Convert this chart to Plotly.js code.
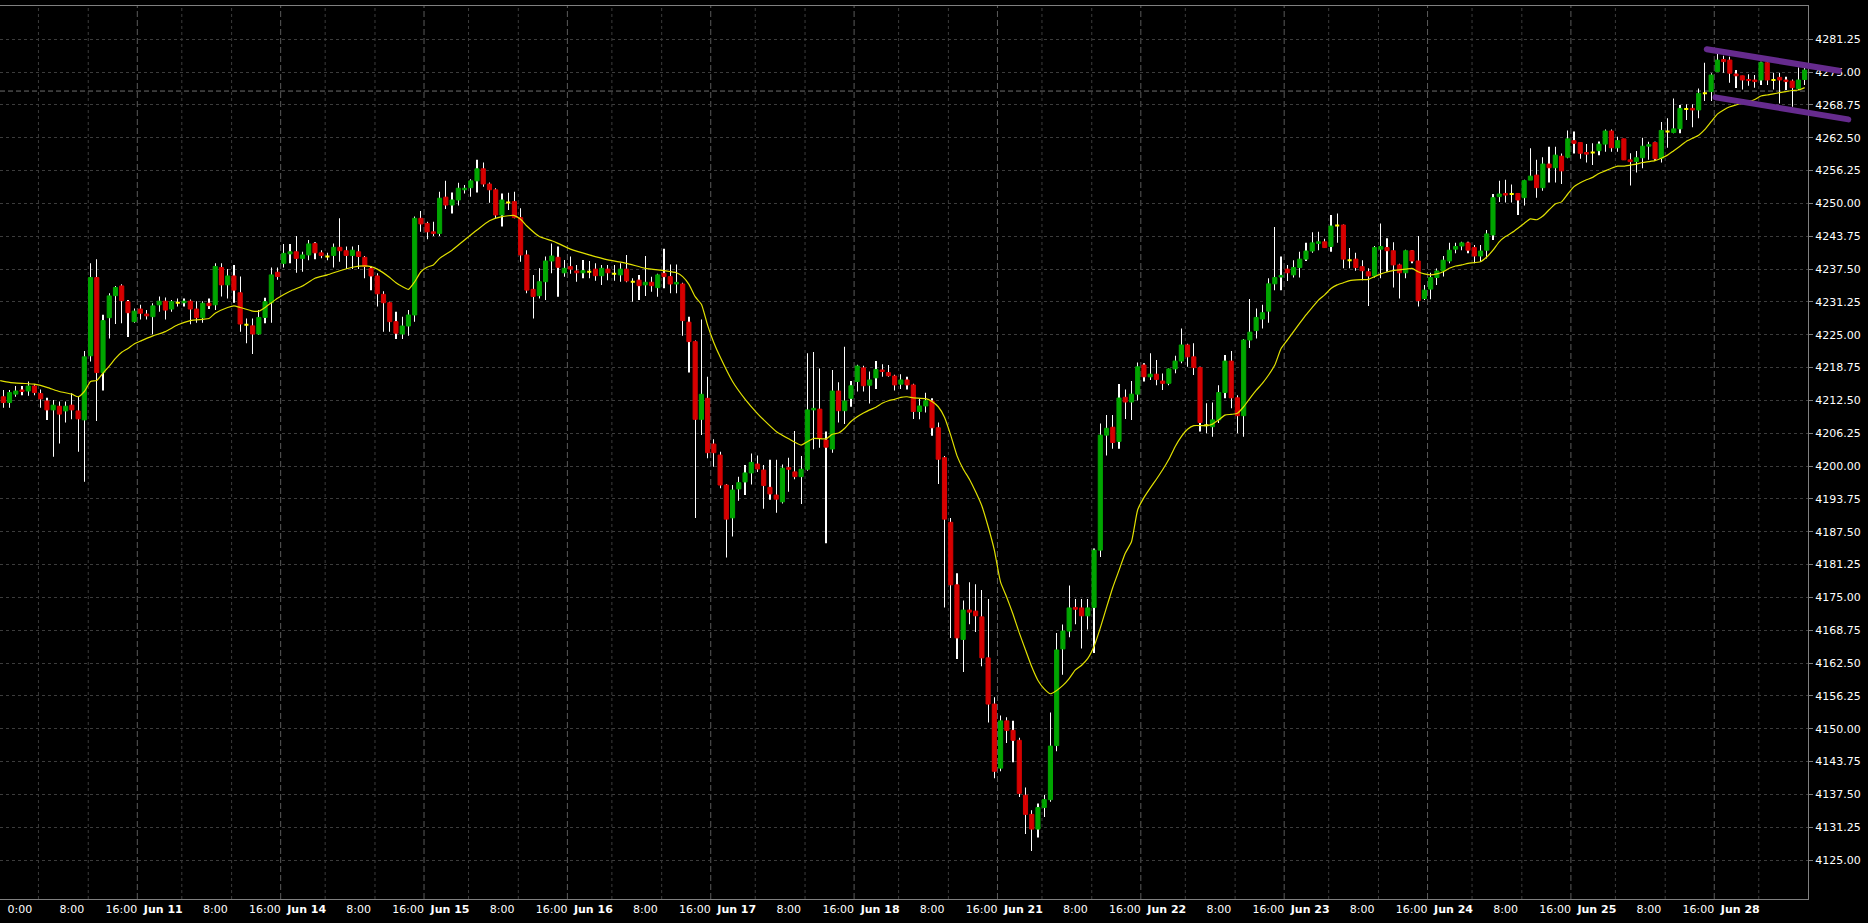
<!DOCTYPE html>
<html><head><meta charset="utf-8">
<script src="https://cdn.plot.ly/plotly-3.0.1.min.js"></script>
<style>html,body{margin:0;padding:0;background:#000;overflow:hidden}#chart{width:1868px;height:923px}</style>
</head><body><div id="chart"></div>
<script>
// ---- hourly OHLC (bar index 0..289) ----
const openP = [
4213.2,4212.1,4213.7,4214.5,4214.3,4215.25,4213.8,4212.4,4210.7,4211.4,
4210.5,4211.6,4210.5,4208.8,4221.0,4235.9,4217.8,4228.25,4232.45,4234.3,
4231.3,4227.5,4229.9,4228.95,4228.45,4230.7,4231.4,4229.9,4231.1,4231.1,
4231.4,4229.9,4228.25,4231.0,4230.7,4237.8,4234.5,4236.2,4233.0,4226.9,
4226.7,4225.15,4228.3,4231.1,4236.9,4238.6,4240.4,4240.8,4239.55,4240.2,
4242.4,4240.6,4239.9,4240.1,4241.65,4241.0,4240.1,4240.8,4239.75,4237.65,
4236.2,4232.7,4231.1,4227.5,4225.15,4226.67,4228.77,4247.17,4246.2,4244.6,
4244.3,4251.2,4249.7,4250.66,4252.6,4253.0,4254.3,4256.6,4253.7,4252.6,
4247.8,4250.2,4250.35,4247.3,4240.2,4233.65,4232.45,4235.1,4239.05,4239.75,
4236.8,4237.97,4237.15,4236.8,4237.0,4237.5,4236.25,4237.5,4236.6,4236.4,
4237.5,4235.1,4235.4,4234.5,4235.0,4233.97,4236.7,4236.07,4234.67,4234.67,
4227.4,4223.7,4208.9,4212.9,4204.2,4202.1,4196.4,4190.15,4195.65,4196.99,
4198.7,4200.4,4199.25,4195.96,4194.5,4193.2,4199.7,4198.9,4198.0,4199.4,
4210.7,4210.85,4204.97,4203.25,4214.3,4210.55,4212.9,4216.1,4218.7,4215.4,
4216.8,4218.3,4217.8,4217.15,4215.6,4216.4,4215.45,4210.4,4211.45,4212.4,
4207.3,4201.6,4189.3,4177.4,4167.0,4172.6,4172.4,4171.3,4163.5,4154.7,
4142.5,4151.5,4149.7,4147.8,4137.35,4133.7,4130.9,4135.0,4136.5,4146.8,
4165.2,4168.6,4173.1,4173.0,4171.5,4173.1,4184.0,4205.9,4207.4,4204.7,
4213.1,4212.2,4213.7,4219.25,4217.0,4217.5,4216.2,4215.76,4218.5,4220.0,
4223.06,4220.8,4218.75,4207.8,4207.5,4208.8,4214.0,4220.0,4213.0,4209.6,
4224.0,4225.8,4228.0,4229.5,4234.7,4236.0,4237.5,4236.4,4237.8,4239.4,
4240.95,4242.4,4242.7,4241.8,4245.8,4245.9,4239.2,4239.4,4237.97,4237.0,
4236.2,4241.3,4241.6,4241.0,4238.3,4236.8,4241.0,4239.05,4231.9,4233.7,
4235.9,4237.15,4239.05,4241.3,4241.9,4242.5,4241.6,4240.0,4241.1,4244.0,
4251.3,4251.9,4251.8,4251.9,4251.1,4254.45,4255.4,4253.0,4257.5,4256.8,
4259.0,4258.8,4261.95,4261.6,4259.7,4259.7,4260.05,4261.3,4263.8,4260.6,
4262.3,4258.3,4257.96,4258.7,4260.9,4261.6,4258.6,4263.7,4263.5,4264.2,
4268.0,4268.1,4267.8,4270.97,4271.3,4275.1,4277.4,4277.3,4274.65,4274.3,
4273.6,4273.5,4273.5,4276.8,4273.5,4274.0,4273.5,4273.3,4271.9,4273.6];
const highP = [
4214.5,4214.5,4215.25,4215.25,4216.1,4215.6,4214.6,4213.0,4212.6,4212.3,
4212.3,4213.85,4213.2,4221.9,4238.6,4239.4,4228.8,4232.9,4234.3,4234.6,
4231.6,4230.0,4230.7,4229.7,4231.0,4232.3,4232.1,4231.6,4231.9,4231.9,
4231.7,4231.4,4231.4,4231.9,4238.6,4238.6,4237.5,4238.3,4236.1,4228.1,
4228.1,4229.7,4232.05,4237.8,4237.8,4242.3,4242.3,4243.8,4240.8,4243.05,
4242.6,4241.1,4240.6,4242.4,4247.2,4241.8,4241.8,4242.1,4240.0,4238.0,
4236.7,4233.3,4231.3,4229.4,4228.45,4229.7,4247.5,4248.57,4246.5,4246.5,
4252.25,4254.3,4252.1,4253.96,4253.5,4254.6,4258.3,4257.8,4254.0,4252.9,
4251.9,4252.06,4252.25,4249.1,4241.1,4236.4,4237.65,4239.9,4242.4,4241.8,
4239.25,4239.9,4238.3,4239.25,4239.05,4238.6,4238.3,4238.3,4238.3,4238.6,
4240.2,4235.75,4236.4,4240.0,4236.07,4236.6,4241.4,4238.4,4238.4,4234.9,
4228.45,4223.9,4227.9,4217.0,4205.1,4202.75,4196.6,4196.4,4197.99,4200.2,
4202.4,4202.0,4200.2,4201.2,4201.2,4200.3,4201.6,4206.7,4201.9,4221.5,
4221.7,4218.6,4206.6,4218.3,4215.95,4222.7,4216.2,4219.3,4219.1,4218.0,
4220.0,4219.4,4219.25,4217.4,4217.5,4217.0,4215.7,4212.8,4213.97,4212.9,
4208.3,4201.9,4190.1,4179.6,4174.4,4177.9,4177.5,4176.4,4174.7,4156.0,
4152.5,4152.2,4151.5,4148.3,4138.8,4134.5,4135.75,4137.4,4153.1,4168.25,
4169.85,4177.25,4174.7,4174.7,4174.7,4184.3,4208.1,4209.75,4209.75,4215.65,
4214.6,4216.2,4219.7,4219.6,4221.5,4220.2,4217.65,4218.6,4221.0,4226.2,
4223.3,4223.4,4218.9,4211.95,4212.1,4215.4,4221.15,4221.9,4213.5,4224.2,
4231.8,4230.0,4230.7,4235.75,4245.5,4239.9,4238.3,4239.2,4240.8,4242.5,
4244.5,4244.6,4243.3,4247.8,4248.1,4246.0,4241.5,4240.6,4239.2,4237.65,
4241.9,4246.2,4243.4,4242.6,4238.5,4241.2,4241.1,4243.8,4234.5,4236.8,
4237.6,4240.0,4242.5,4242.5,4242.7,4242.7,4242.1,4242.1,4244.95,4251.8,
4254.3,4254.5,4253.6,4251.9,4254.5,4260.5,4258.3,4258.8,4260.8,4260.8,
4259.5,4263.9,4263.7,4261.6,4261.3,4261.45,4261.8,4264.1,4264.1,4262.7,
4262.3,4259.55,4260.0,4262.5,4261.75,4261.75,4265.5,4266.2,4270.0,4268.75,
4268.9,4268.9,4271.9,4276.8,4274.8,4278.45,4278.1,4277.95,4275.4,4274.3,
4274.6,4274.45,4277.0,4277.0,4274.9,4274.9,4274.1,4273.6,4275.9,4276.35];
const lowP = [
4211.1,4211.1,4213.2,4213.5,4213.4,4213.5,4211.1,4208.8,4201.8,4204.3,
4208.3,4208.9,4202.75,4197.0,4219.9,4208.6,4214.4,4224.3,4227.05,4227.2,
4224.6,4227.3,4227.9,4227.9,4225.1,4229.4,4227.9,4229.4,4230.4,4230.4,
4227.0,4227.3,4227.3,4229.9,4229.7,4232.3,4231.9,4231.1,4225.6,4223.4,
4221.35,4225.0,4227.2,4227.3,4235.5,4237.8,4238.6,4236.8,4237.0,4239.2,
4239.4,4239.55,4239.2,4237.8,4238.9,4237.5,4237.5,4237.5,4235.75,4233.5,
4230.4,4225.6,4225.6,4224.2,4224.2,4224.8,4227.5,4244.6,4243.2,4243.8,
4243.8,4248.95,4248.1,4249.6,4251.9,4251.3,4252.1,4253.2,4250.15,4247.2,
4245.6,4248.76,4247.17,4238.9,4232.9,4228.1,4231.9,4231.6,4236.7,4232.25,
4236.07,4236.6,4235.1,4235.75,4235.75,4235.3,4234.5,4235.4,4235.3,4235.1,
4235.0,4231.3,4231.6,4232.4,4233.2,4232.25,4233.85,4232.9,4232.9,4224.8,
4217.8,4190.1,4205.9,4201.5,4199.9,4195.8,4182.6,4186.6,4193.4,4194.5,
4196.5,4198.9,4191.9,4193.6,4191.1,4192.9,4195.1,4197.5,4192.8,4199.1,
4203.2,4203.5,4185.3,4202.56,4208.3,4208.0,4211.3,4214.2,4214.2,4211.9,
4214.7,4217.0,4217.0,4214.4,4214.7,4214.6,4208.96,4208.9,4210.2,4205.8,
4196.6,4173.1,4167.3,4163.3,4160.8,4169.9,4168.4,4161.9,4151.2,4140.6,
4141.9,4147.3,4143.6,4137.0,4129.96,4126.75,4129.3,4133.2,4136.1,4145.7,
4160.3,4167.4,4169.9,4165.3,4168.9,4164.4,4182.7,4202.0,4203.3,4203.3,
4208.97,4208.8,4212.5,4216.1,4216.4,4215.4,4214.5,4215.4,4217.7,4219.6,
4218.9,4217.35,4206.6,4206.24,4205.6,4208.2,4212.9,4211.0,4206.24,4205.6,
4222.5,4224.3,4226.2,4227.3,4233.5,4233.5,4235.25,4235.9,4235.9,4239.05,
4240.6,4241.1,4241.5,4240.8,4242.5,4237.65,4237.65,4237.2,4235.4,4230.5,
4235.9,4235.75,4237.0,4234.0,4231.9,4235.75,4238.6,4230.4,4231.6,4231.75,
4234.5,4236.1,4238.6,4240.5,4241.1,4240.5,4238.6,4238.9,4239.5,4243.05,
4250.3,4250.2,4250.2,4247.8,4249.6,4254.45,4251.1,4252.4,4254.0,4254.0,
4253.7,4258.6,4259.5,4258.5,4257.8,4257.3,4259.2,4259.85,4259.85,4259.85,
4258.3,4253.4,4255.9,4256.7,4258.3,4258.15,4257.8,4260.6,4263.35,4263.35,
4265.9,4264.5,4266.2,4269.5,4269.5,4275.1,4274.9,4273.0,4272.0,4271.7,
4272.4,4272.05,4272.55,4272.55,4271.7,4269.05,4271.6,4268.4,4271.6,4272.55];
const closeP = [
4212.1,4214.0,4214.3,4214.2,4215.25,4214.0,4212.8,4210.7,4211.6,4209.9,
4211.4,4210.7,4209.0,4220.8,4235.9,4217.8,4227.7,4232.4,4234.0,4231.5,
4229.2,4229.5,4229.1,4228.6,4230.5,4231.4,4229.7,4231.3,4231.1,4231.4,
4229.9,4228.25,4231.0,4230.55,4238.0,4234.5,4236.2,4233.5,4227.05,4226.9,
4225.15,4228.3,4231.3,4236.4,4236.1,4240.5,4240.8,4239.55,4240.2,4242.3,
4240.6,4240.1,4239.9,4241.65,4241.0,4240.1,4241.1,4239.9,4238.0,4236.2,
4232.8,4231.1,4227.5,4225.3,4226.67,4228.77,4247.17,4246.1,4244.6,4244.3,
4251.0,4249.7,4250.66,4252.9,4252.9,4254.3,4256.6,4253.7,4252.6,4247.8,
4250.66,4250.2,4247.3,4240.2,4233.5,4232.3,4235.1,4239.05,4240.0,4237.85,
4237.65,4237.5,4236.8,4237.2,4237.0,4236.25,4237.65,4236.8,4236.6,4237.5,
4235.25,4235.1,4234.35,4235.0,4234.35,4236.4,4236.07,4234.67,4234.98,4227.7,
4223.7,4208.9,4213.67,4202.55,4202.55,4196.4,4189.9,4195.45,4196.85,4198.7,
4200.7,4199.45,4196.3,4194.7,4193.7,4199.6,4199.4,4198.0,4199.4,4210.7,
4211.0,4205.3,4203.6,4214.3,4210.55,4212.4,4215.3,4219.05,4215.3,4216.4,
4218.4,4218.0,4217.2,4215.45,4216.4,4215.45,4210.4,4211.45,4212.45,4207.3,
4201.3,4189.9,4177.4,4167.3,4172.6,4172.2,4171.5,4163.5,4154.7,4141.9,
4151.5,4149.7,4147.8,4137.7,4133.7,4130.9,4135.0,4136.5,4146.7,4165.0,
4168.6,4173.0,4172.75,4171.5,4173.0,4184.0,4205.9,4207.2,4204.5,4212.96,
4212.2,4213.7,4218.9,4217.0,4217.5,4216.5,4215.76,4218.5,4220.0,4223.06,
4220.8,4218.75,4208.3,4207.8,4208.8,4214.0,4220.0,4213.0,4209.6,4224.0,
4225.5,4228.3,4229.2,4234.7,4235.9,4236.3,4236.8,4237.8,4239.4,4240.95,
4242.5,4242.7,4241.6,4245.7,4245.8,4239.4,4239.2,4237.8,4237.2,4236.2,
4241.6,4241.8,4241.0,4238.3,4236.8,4241.0,4239.05,4231.5,4233.5,4235.9,
4237.15,4239.2,4241.1,4241.8,4242.5,4241.1,4240.0,4240.95,4244.2,4251.1,
4251.8,4251.6,4251.8,4250.66,4254.35,4255.2,4253.0,4257.5,4256.8,4259.2,
4256.2,4262.3,4261.45,4259.55,4259.4,4259.7,4261.3,4263.8,4260.6,4261.95,
4258.3,4257.96,4258.7,4260.9,4261.2,4258.5,4263.9,4263.7,4264.2,4268.1,
4268.0,4267.8,4270.97,4270.97,4274.45,4277.3,4277.0,4274.8,4274.3,4273.5,
4273.4,4273.2,4276.8,4273.5,4273.5,4273.5,4273.2,4272.05,4273.5,4275.4];

// ---- moving average at these bar indices ----
const maBar = [-0.5,1,3,5,7,9,11,12,13,14,15,16,17,18,19,20,21,22,24,26,28,30,32,33,34,36,37,38,40,41,42,44,46,48,50,52,54,56,58,59,60,62,63,64,65,66,67,68,69,70,72,74,76,78,80,82,83,84,86,88,89,91,94,97,100,103,106,108,109,110,111,112,113,114,115,117,119,121,122,124,126,128,129,130,132,133,134,135,136,137,138,139,140,141,142,143,144,145,146,148,149,150,151,152,153,154,155,156,157,158,159,160,161,162,163,164,165,166,167,168,169,170,171,172,173,174,175,176,177,178,179,180,181,182,183,184,185,186,187,188,189,190,191,193,194,195,196,197,198,199,200,201,202,203,204,205,206,207,208,209,210,211,212,213,214,215,216,218,219,220,221,222,223,225,226,227,228,229,230,231,232,233,234,235,237,238,239,240,241,242,243,244,245,246,247,248,249,250,251,252,253,254,255,256,257,258,259,260,261,262,263,264,265,266,267,268,269,270,271,272,273,274,275,276,277,278,279,280,281,282,283,284,285,286,287,288,289];
const maValue = [4216.27,4215.95,4215.76,4215.6,4215.0,4214.2,4213.7,4213.2,4214.2,4216.1,4216.3,4217.7,4219.05,4220.5,4221.66,4222.4,4223.25,4223.8,4224.8,4225.6,4226.9,4227.7,4227.95,4228.1,4229.1,4230.2,4230.5,4230.2,4229.5,4229.5,4230.2,4231.95,4233.3,4234.3,4235.75,4236.4,4237.2,4237.85,4238.1,4237.97,4237.5,4235.9,4234.9,4234.2,4233.65,4235.1,4237.0,4237.85,4238.3,4239.55,4241.1,4243.05,4244.95,4246.7,4247.5,4247.7,4247.0,4245.7,4243.7,4242.9,4242.4,4241.3,4240.2,4239.25,4238.6,4237.65,4237.2,4236.8,4236.07,4234.6,4232.25,4230.8,4226.8,4223.5,4220.8,4216.1,4212.75,4210.0,4208.8,4206.6,4205.2,4204.0,4204.65,4205.25,4205.2,4206.05,4206.3,4207.2,4208.5,4209.4,4210.1,4210.7,4211.2,4211.95,4212.45,4212.7,4213.1,4213.2,4213.0,4212.85,4212.3,4211.3,4209.3,4205.9,4202.0,4199.45,4197.5,4195.1,4192.4,4188.5,4184.0,4177.9,4175.0,4171.8,4168.25,4165.0,4161.8,4159.2,4157.6,4156.66,4157.3,4158.25,4159.55,4161.2,4162.1,4163.4,4165.7,4169.2,4173.1,4176.9,4180.15,4183.4,4185.6,4191.7,4194.0,4195.8,4197.5,4199.3,4201.3,4203.7,4205.6,4207.0,4207.7,4207.7,4208.0,4208.8,4209.7,4209.85,4210.05,4211.3,4212.9,4214.4,4215.76,4217.35,4219.25,4222.4,4224.0,4225.6,4227.2,4228.77,4230.2,4231.6,4232.6,4233.8,4234.5,4234.9,4235.3,4235.5,4235.56,4236.07,4236.6,4236.95,4237.2,4237.5,4237.65,4237.0,4236.6,4236.4,4236.6,4237.0,4237.65,4238.1,4238.3,4238.6,4238.9,4239.8,4241.1,4242.7,4243.7,4244.4,4245.27,4246.2,4247.05,4246.9,4247.6,4248.8,4249.9,4250.3,4251.8,4253.2,4253.96,4254.5,4254.97,4255.7,4256.2,4256.7,4257.1,4257.1,4257.3,4257.5,4257.8,4257.96,4258.15,4258.6,4259.2,4260.05,4260.9,4261.8,4262.4,4263.0,4264.1,4265.57,4267.0,4267.8,4268.4,4268.75,4269.1,4269.4,4269.8,4270.45,4270.65,4270.85,4271.1,4271.3,4271.5,4271.6,4272.05];

// ---- axis labels ----
const dayLabels = ["0:00","Jun 11","Jun 14","Jun 15","Jun 16","Jun 17","Jun 18","Jun 21","Jun 22","Jun 23","Jun 24","Jun 25","Jun 28"];
const hourLabels = ["8:00","16:00"];
const barsPerDay = 23;
const firstDayStart = -1;     // bar index where the first (partial) day begins
const priceTickFirst = 4125.00, priceTickStep = 6.25, priceTickCount = 26;

// ---- drawn objects (bar index, price) ----
const upperTrendBar = [273.3, 294.5], upperTrendPrice = [4279.35, 4275.27];
const lowerTrendBar = [274.7, 296.0], lowerTrendPrice = [4270.2, 4266.0];
const priceLineLevel = 4271.4;

// ===================================================
const N = openP.length;
const idx = Array.from({length:N}, (_,i)=>i);
const GREEN = '#00a500', RED = '#d60000', DOJI = '#ffff00';
const bodyColor = idx.map(i => Math.abs(closeP[i]-openP[i]) < 1e-6 ? DOJI : (closeP[i] > openP[i] ? GREEN : RED));
const bodyBase = idx.map(i => Math.min(openP[i], closeP[i]));
const bodyLen = idx.map(i => Math.abs(closeP[i]-openP[i]));
const wickLen = idx.map(i => highP[i]-lowP[i]);
const bodyLineW = idx.map(i => bodyLen[i] < 1e-6 ? 2 : 1);

const xRange = [-0.529, 289.54];
const yRange = [4117.59, 4287.59];

const wicks = {type:'bar', x:idx, base:lowP, y:wickLen, width:0.03,
  marker:{color:'#ffffff', line:{width:0}}, hoverinfo:'skip', showlegend:false};
const bodies = {type:'bar', x:idx, base:bodyBase, y:bodyLen, width:0.66,
  marker:{color:bodyColor, line:{color:bodyColor, width:bodyLineW}}, hoverinfo:'skip', showlegend:false};
const ma = {type:'scatter', mode:'lines', x:maBar, y:maValue,
  line:{color:'#e1e100', width:1.2, shape:'spline', smoothing:0.5}, hoverinfo:'skip', showlegend:false};

// tick positions (bar units)
const PX = 1808/(xRange[1]-xRange[0]);  // px per bar
const tickVals = [], tickText = [];
dayLabels.forEach((lab, k) => {
  const sep = firstDayStart + k*barsPerDay - 0.5;
  tickVals.push(sep + 26/PX); tickText.push(k === 0 ? lab : '<b>'+lab+'</b>');
  if (k < dayLabels.length-1) {
    tickVals.push(sep + 78/PX); tickText.push(hourLabels[0]);
    tickVals.push(sep + 127.5/PX); tickText.push(hourLabels[1]);
  }
});

const shapes = [];
dayLabels.forEach((lab, k) => {
  const sep = firstDayStart + k*barsPerDay - 0.5;
  if (k > 0) shapes.push({type:'line', xref:'x', yref:'paper', x0:sep, x1:sep, y0:0, y1:1, layer:'below',
    line:{color:'#5a5a5a', width:1, dash:'6px,3px'}});
  [44.5, 94.3].forEach(off => {
    const g = sep + off/PX;
    if (g < xRange[1]-0.3) shapes.push({type:'line', xref:'x', yref:'paper', x0:g, x1:g, y0:0, y1:1, layer:'below',
      line:{color:'#3c3c3c', width:1, dash:'3px,3px'}});
  });
});
shapes.push({type:'line', xref:'paper', yref:'y', x0:0, x1:1, y0:priceLineLevel, y1:priceLineLevel, layer:'below',
  line:{color:'#6e6e6e', width:1, dash:'5px,3px'}});
const toPX = b => (b - xRange[0])/(xRange[1]-xRange[0]);
const toPY = p => (p - yRange[0])/(yRange[1]-yRange[0]);
[[upperTrendBar, upperTrendPrice],[lowerTrendBar, lowerTrendPrice]].forEach(([b,p]) => {
  shapes.push({type:'line', xref:'paper', yref:'paper', x0:toPX(b[0]), x1:toPX(b[1]), y0:toPY(p[0]), y1:toPY(p[1]),
    layer:'above', line:{color:'#662b8e', width:6}});
});

const yTicks = Array.from({length:priceTickCount}, (_,k)=> priceTickFirst + k*priceTickStep);

const layout = {
  width:1868, height:923,
  paper_bgcolor:'#000000', plot_bgcolor:'#000000',
  margin:{l:0, r:60, t:6, b:24},
  barmode:'overlay', showlegend:false, hovermode:false, dragmode:false,
  font:{family:'DejaVu Sans', size:11, color:'#ffffff'},
  xaxis:{range:xRange, showgrid:false, zeroline:false, showline:true, linecolor:'#808080', linewidth:1,
    mirror:true, tickmode:'array', tickvals:tickVals, ticktext:tickText, ticks:'',
    tickfont:{family:'DejaVu Sans', size:11, color:'#ffffff'}, fixedrange:true},
  yaxis:{range:yRange, side:'right', showgrid:true, gridcolor:'#3c3c3c', griddash:'3px,3px', zeroline:false,
    showline:true, linecolor:'#808080', linewidth:1, mirror:true, ticks:'outside', ticklen:4, tickcolor:'#808080',
    tickmode:'array', tickvals:yTicks, ticktext:yTicks.map(v=>v.toFixed(2)),
    tickfont:{family:'DejaVu Sans', size:11, color:'#ffffff'}, fixedrange:true},
  shapes:shapes
};

Plotly.newPlot('chart', [wicks, bodies, ma], layout, {displayModeBar:false}).then(gd => {
  gd.querySelectorAll('.layer-above .shapelayer path').forEach(p => { p.style.strokeLinecap = 'round'; });
});
</script>
</body></html>
